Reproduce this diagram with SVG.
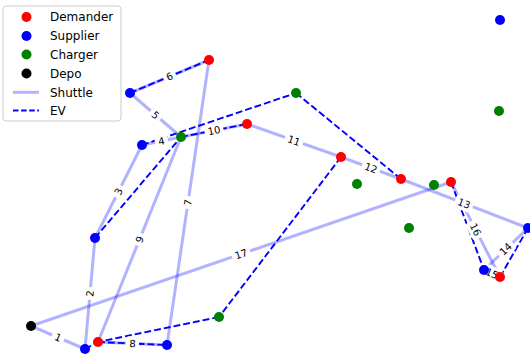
<svg xmlns="http://www.w3.org/2000/svg" width="530" height="358" viewBox="0 0 530 358">
<defs>
<style>
.sh{stroke:#0000ff;stroke-opacity:0.3;stroke-width:3;fill:none;stroke-linecap:butt}
.ev{stroke:#0000ff;stroke-width:1.9;fill:none;stroke-dasharray:6.9 3}
.lb rect{fill:#fff;stroke:none}
.lb text{font-family:"DejaVu Sans",sans-serif;font-size:10px;text-anchor:middle;fill:#000}
.d{fill:#ff0000}.s{fill:#0000ff}.c{fill:#008000}.k{fill:#000}
.lg{font-family:"DejaVu Sans",sans-serif;font-size:12px;fill:#000}
</style>
</defs>
<rect width="530" height="358" fill="#fff"/>
<g id="connectors">
<g id="shuttle">
<line class="sh" x1="31" y1="326" x2="85" y2="349"/>
<line class="sh" x1="85" y1="349" x2="95" y2="238"/>
<line class="sh" x1="95" y1="238" x2="142" y2="145"/>
<line class="sh" x1="142" y1="145" x2="181" y2="137"/>
<line class="sh" x1="181" y1="137" x2="130" y2="93"/>
<line class="sh" x1="130" y1="93" x2="209" y2="60"/>
<line class="sh" x1="209" y1="60" x2="167" y2="345"/>
<line class="sh" x1="167" y1="345" x2="98" y2="342"/>
<line class="sh" x1="98" y1="342" x2="181" y2="137"/>
<line class="sh" x1="181" y1="137" x2="247" y2="124"/>
<line class="sh" x1="247" y1="124" x2="341" y2="157"/>
<line class="sh" x1="341" y1="157" x2="401" y2="179"/>
<line class="sh" x1="401" y1="179" x2="528" y2="228"/>
<line class="sh" x1="528" y1="228" x2="484" y2="270"/>
<line class="sh" x1="484" y1="270" x2="500" y2="277"/>
<line class="sh" x1="500" y1="277" x2="451" y2="182"/>
<line class="sh" x1="451" y1="182" x2="31" y2="326"/>
</g>
<g id="ev">
<line class="ev" x1="130" y1="93" x2="209" y2="60"/>
<line class="ev" x1="142" y1="145" x2="296" y2="93"/>
<line class="ev" x1="296" y1="93" x2="401" y2="179"/>
<line class="ev" x1="341" y1="157" x2="219" y2="317"/>
<line class="ev" x1="219" y1="317" x2="98" y2="342"/>
<line class="ev" x1="98" y1="342" x2="167" y2="345"/>
<line class="ev" x1="85" y1="349" x2="98" y2="342"/>
<line class="ev" x1="95" y1="238" x2="181" y2="137"/>
<line class="ev" x1="181" y1="137" x2="247" y2="124"/>
<line class="ev" x1="451" y1="182" x2="484" y2="270"/>
<line class="ev" x1="500" y1="277" x2="528" y2="228"/>
</g>
<g id="edge-labels">
<g class="lb" transform="translate(58,337.5) rotate(23.1)"><rect x="-6.5" y="-7" width="13" height="14" rx="3"/><text y="3.6">1</text></g>
<g class="lb" transform="translate(90,293.5) rotate(-84.9)"><rect x="-6.5" y="-7" width="13" height="14" rx="3"/><text y="3.6">2</text></g>
<g class="lb" transform="translate(118.5,191.5) rotate(-63.2)"><rect x="-6.5" y="-7" width="13" height="14" rx="3"/><text y="3.6">3</text></g>
<g class="lb" transform="translate(161.5,141) rotate(-11.6)"><rect x="-6.5" y="-7" width="13" height="14" rx="3"/><text y="3.6">4</text></g>
<g class="lb" transform="translate(155.5,115) rotate(40.8)"><rect x="-6.5" y="-7" width="13" height="14" rx="3"/><text y="3.6">5</text></g>
<g class="lb" transform="translate(169.5,76.5) rotate(-22.7)"><rect x="-6.5" y="-7" width="13" height="14" rx="3"/><text y="3.6">6</text></g>
<g class="lb" transform="translate(188,202.5) rotate(-81.6)"><rect x="-6.5" y="-7" width="13" height="14" rx="3"/><text y="3.6">7</text></g>
<g class="lb" transform="translate(132.5,343.5) rotate(2.5)"><rect x="-6.5" y="-7" width="13" height="14" rx="3"/><text y="3.6">8</text></g>
<g class="lb" transform="translate(139.5,239.5) rotate(-68)"><rect x="-6.5" y="-7" width="13" height="14" rx="3"/><text y="3.6">9</text></g>
<g class="lb" transform="translate(214,130.5) rotate(-11.1)"><rect x="-9.5" y="-7" width="19" height="14" rx="3"/><text y="3.6">10</text></g>
<g class="lb" transform="translate(294,140.5) rotate(19.3)"><rect x="-9.5" y="-7" width="19" height="14" rx="3"/><text y="3.6">11</text></g>
<g class="lb" transform="translate(371,168) rotate(20.1)"><rect x="-9.5" y="-7" width="19" height="14" rx="3"/><text y="3.6">12</text></g>
<g class="lb" transform="translate(464,203.5) rotate(21.3)"><rect x="-9.5" y="-7" width="19" height="14" rx="3"/><text y="3.6">13</text></g>
<g class="lb" transform="translate(505.5,249) rotate(-43.7)"><rect x="-9.5" y="-7" width="19" height="14" rx="3"/><text y="3.6">14</text></g>
<g class="lb" transform="translate(492,273.5) rotate(23.6)"><rect x="-9.5" y="-7" width="19" height="14" rx="3"/><text y="3.6">15</text></g>
<g class="lb" transform="translate(475.5,229.5) rotate(62.7)"><rect x="-9.5" y="-7" width="19" height="14" rx="3"/><text y="3.6">16</text></g>
<g class="lb" transform="translate(241,254) rotate(-18.9)"><rect x="-9.5" y="-7" width="19" height="14" rx="3"/><text y="3.6">17</text></g>
</g>
</g>
<g id="nodes">
<g id="depo"><circle class="k" cx="31" cy="326" r="5"/></g>
<g id="s1"><circle class="s" cx="85" cy="349" r="5"/></g>
<g id="d1"><circle class="d" cx="98" cy="342" r="5"/></g>
<g id="s2"><circle class="s" cx="167" cy="345" r="5"/></g>
<g id="c1"><circle class="c" cx="219" cy="317" r="5"/></g>
<g id="s3"><circle class="s" cx="95" cy="238" r="5"/></g>
<g id="s4"><circle class="s" cx="142" cy="145" r="5"/></g>
<g id="c2"><circle class="c" cx="181" cy="137" r="5"/></g>
<g id="s5"><circle class="s" cx="130" cy="93" r="5"/></g>
<g id="d2"><circle class="d" cx="209" cy="60" r="5"/></g>
<g id="c3"><circle class="c" cx="296" cy="93" r="5"/></g>
<g id="d3"><circle class="d" cx="247" cy="124" r="5"/></g>
<g id="d4"><circle class="d" cx="341" cy="157" r="5"/></g>
<g id="c4"><circle class="c" cx="357" cy="184" r="5"/></g>
<g id="d5"><circle class="d" cx="401" cy="179" r="5"/></g>
<g id="c5"><circle class="c" cx="434" cy="185" r="5"/></g>
<g id="d6"><circle class="d" cx="451" cy="182" r="5"/></g>
<g id="c6"><circle class="c" cx="409" cy="228" r="5"/></g>
<g id="s6"><circle class="s" cx="528" cy="228" r="5"/></g>
<g id="s7"><circle class="s" cx="484" cy="270" r="5"/></g>
<g id="d7"><circle class="d" cx="500" cy="277" r="5"/></g>
<g id="s8"><circle class="s" cx="500" cy="20" r="5"/></g>
<g id="c7"><circle class="c" cx="499" cy="111" r="5"/></g>
</g>
<g id="legend">
<rect x="3" y="6" width="118" height="115" rx="3" fill="#fff" fill-opacity="0.8" stroke="#cccccc" stroke-width="1"/>
<circle class="d" cx="26.5" cy="17" r="5"/>
<circle class="s" cx="26.5" cy="36" r="5"/>
<circle class="c" cx="26.5" cy="54.5" r="5"/>
<circle class="k" cx="26.5" cy="73.5" r="5"/>
<line class="sh" x1="13" y1="92.3" x2="39" y2="92.3"/>
<line class="ev" x1="13" y1="110.5" x2="39" y2="110.5" style="stroke-dasharray:5.5 2.6"/>
<text class="lg" x="50" y="21.3">Demander</text>
<text class="lg" x="50" y="40.3">Supplier</text>
<text class="lg" x="50" y="58.8">Charger</text>
<text class="lg" x="50" y="77.8">Depo</text>
<text class="lg" x="50" y="96.6">Shuttle</text>
<text class="lg" x="50" y="114.8">EV</text>
</g>
</svg>
